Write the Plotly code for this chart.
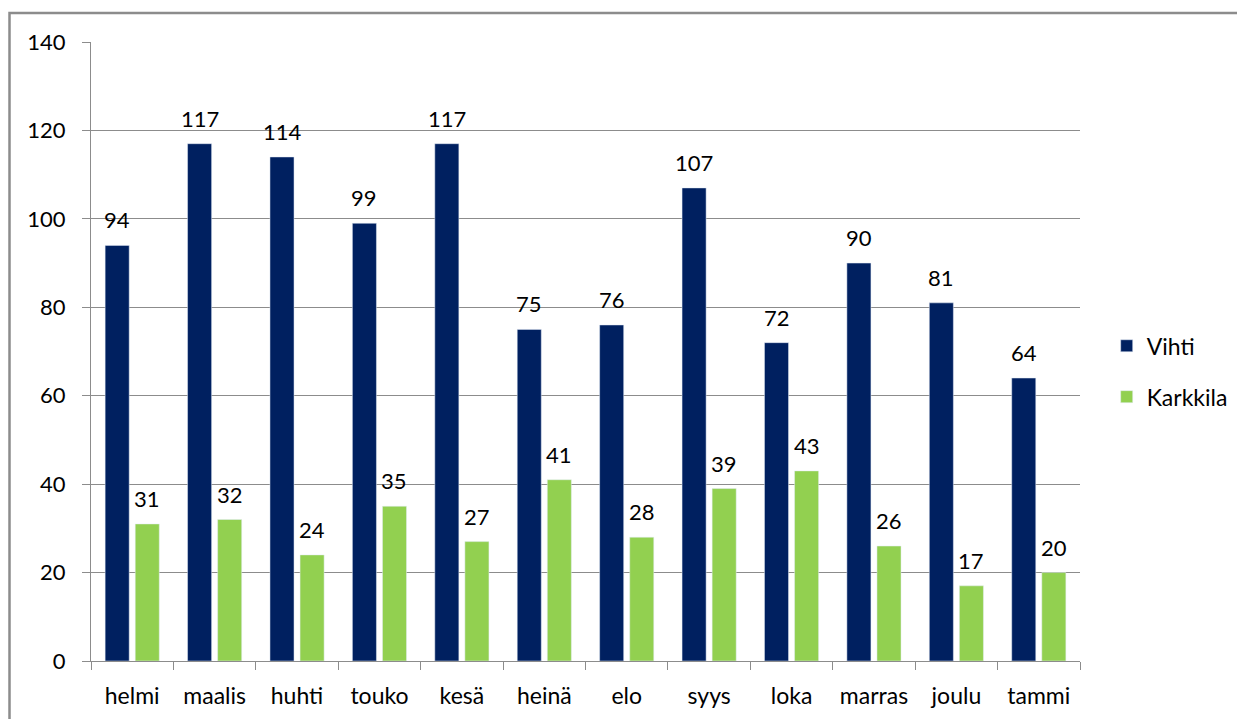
import plotly.graph_objects as go

months = ["helmi", "maalis", "huhti", "touko", "kesä", "heinä", "elo", "syys", "loka", "marras", "joulu", "tammi"]
vihti = [94, 117, 114, 99, 117, 75, 76, 107, 72, 90, 81, 64]
karkkila = [31, 32, 24, 35, 27, 41, 28, 39, 43, 26, 17, 20]
y_ticks = [0, 20, 40, 60, 80, 100, 120, 140]

FONT = "Lato"
fig = go.Figure()
fig.add_bar(x=months, y=vihti, name="Vihti", marker_color="#002060", legendgroup="a")
fig.add_bar(x=months, y=karkkila, name="Karkkila", marker_color="#92D050", legendgroup="b")

for m, v in zip(months, vihti):
    fig.add_annotation(x=m, y=v, text=str(v), showarrow=False, yanchor="bottom",
                       xshift=-15, yshift=10, font=dict(family=FONT, size=22, color="#000"))
for m, v in zip(months, karkkila):
    fig.add_annotation(x=m, y=v, text=str(v), showarrow=False, yanchor="bottom",
                       xshift=15, yshift=10, font=dict(family=FONT, size=22, color="#000"))

# page body has an 8px margin; offsets compensate
OFF = 8
W, H = 1245, 719
L, T = 91 - OFF, 42 - OFF
R = W - (1080 - OFF)
B = H - (661 - OFF)
pw, ph = W - L - R, H - T - B
fig.add_shape(type="rect", xref="paper", yref="paper",
              x0=(9.5 - OFF - L) / pw, x1=(1244 - OFF + 20 - L) / pw,
              y0=-(40 + B) / ph, y1=1 + (T - (13 - OFF)) / ph,
              line=dict(color="#8c8c8c", width=2.5), layer="below")

fig.update_layout(
    width=W, height=H,
    margin=dict(l=L, r=R, t=T, b=B, autoexpand=False),
    paper_bgcolor="white", plot_bgcolor="white",
    barmode="group", bargap=0.27, bargroupgap=0.2,
    font=dict(family=FONT, size=23, color="#000"),
    showlegend=True,
    legend=dict(x=1.027, y=0.468, xanchor="left", yanchor="middle",
                font=dict(family=FONT, size=23), tracegroupgap=18,
                itemwidth=30, bgcolor="rgba(0,0,0,0)"),
)
fig.update_yaxes(range=[0, 140], tickvals=y_ticks, showgrid=True, gridcolor="#8c8c8c", gridwidth=1,
                 showline=True, linecolor="#8c8c8c", linewidth=1, ticks="outside", ticklen=8,
                 tickcolor="#8c8c8c", zeroline=False, ticklabelstandoff=12, fixedrange=True,
                 tickfont=dict(family=FONT, size=22))
fig.update_xaxes(showline=True, linecolor="#8c8c8c", linewidth=1, ticks="outside", ticklen=8,
                 tickcolor="#8c8c8c", tickson="boundaries", showgrid=False, fixedrange=True,
                 ticklabelstandoff=14)
fig.write_html("out.html")
